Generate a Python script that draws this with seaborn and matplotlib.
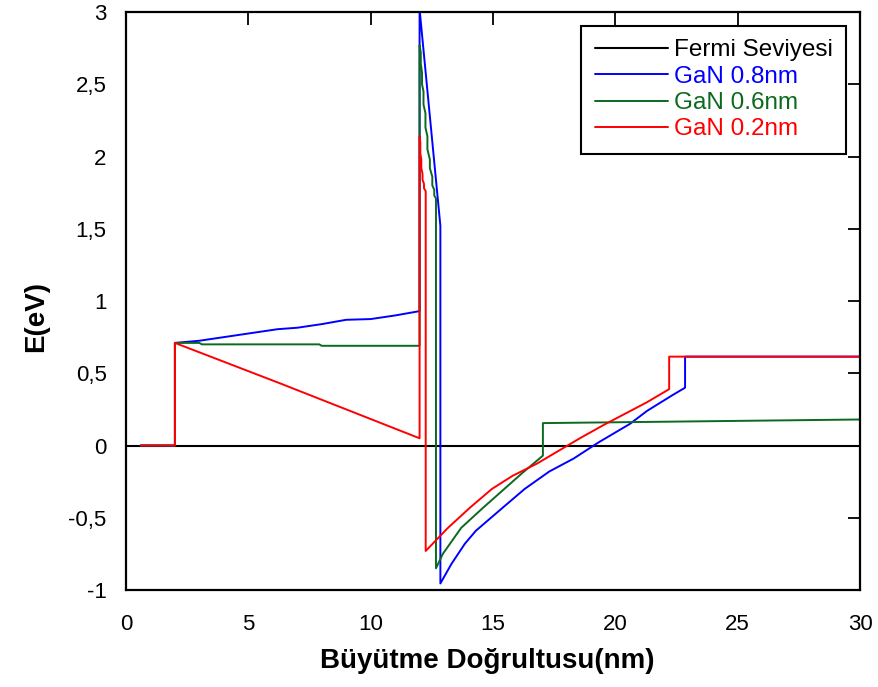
import matplotlib
matplotlib.use("Agg")
import matplotlib.pyplot as plt
import seaborn as sns
import pandas as pd
from matplotlib.ticker import FuncFormatter

# ---- data ----
fermi_x = [0.0, 30.0]
fermi_y = [0.0, 0.0]

gan08_x = [0.6, 2.0, 2.0, 3.0, 4.0, 5.0, 6.2, 7.0, 8.0, 9.0, 10.0, 11.0, 12.0,
           12.0, 12.85, 12.85, 13.3, 13.85, 14.3, 15.4, 16.3, 17.3, 18.3, 19.3,
           20.6, 21.3, 22.35, 22.85, 22.85, 30.0]
gan08_y = [0.0, 0.0, 0.71, 0.725, 0.75, 0.775, 0.805, 0.815, 0.84, 0.87, 0.875, 0.90, 0.93,
           3.02, 1.52, -0.955, -0.82, -0.68, -0.59, -0.43, -0.30, -0.18, -0.09, 0.02,
           0.15, 0.24, 0.35, 0.40, 0.615, 0.615]

gan06_x = [0.6, 2.0, 2.0, 3.0, 3.1, 7.9, 8.0, 12.0, 12.0, 12.05, 12.05, 12.1, 12.1,
           12.16, 12.16, 12.24, 12.24, 12.32, 12.32, 12.42, 12.42, 12.52, 12.52,
           12.6, 12.6, 12.67, 12.67,
           12.95, 13.7, 14.6, 15.4, 16.2, 17.04, 17.04, 30.0]
gan06_y = [0.0, 0.0, 0.71, 0.71, 0.70, 0.70, 0.69, 0.69, 2.77, 2.72, 2.64, 2.58, 2.50,
           2.45, 2.36, 2.30, 2.20, 2.14, 2.05, 1.98, 1.92, 1.86, 1.80,
           1.77, 1.73, 1.71, -0.85,
           -0.75, -0.57, -0.43, -0.31, -0.19, -0.07, 0.155, 0.18]

gan02_x = [0.6, 2.0, 2.0, 6.3, 12.0, 12.0, 12.03, 12.03, 12.07, 12.07, 12.12, 12.12,
           12.18, 12.18, 12.25, 12.25,
           13.16, 14.06, 14.96, 15.8, 16.8, 17.7, 18.55, 19.5, 20.4, 21.3, 22.2,
           22.2, 30.0]
gan02_y = [0.0, 0.0, 0.71, 0.43, 0.05, 2.14, 2.10, 2.02, 1.98, 1.92, 1.88, 1.84,
           1.81, 1.78, 1.76, -0.73,
           -0.57, -0.43, -0.30, -0.21, -0.125, -0.035, 0.05, 0.14, 0.22, 0.30, 0.39,
           0.615, 0.615]

labels = ["Fermi Seviyesi", "GaN 0.8nm", "GaN 0.6nm", "GaN 0.2nm"]
colors = ["#000000", "#0000FF", "#0B6A1E", "#FF0000"]

x_ticks = [0, 5, 10, 15, 20, 25, 30]
y_ticks = [-1, -0.5, 0, 0.5, 1, 1.5, 2, 2.5, 3]

# ---- style ----
sns.set_theme(style="white")
plt.rcParams['font.family'] = ['Liberation Sans', 'DejaVu Sans']

fig = plt.figure(figsize=(8.79, 6.87), dpi=100)
ax = fig.add_axes([0.1433, 0.1412, 0.8351, 0.8413])

series = [(fermi_x, fermi_y), (gan08_x, gan08_y), (gan06_x, gan06_y), (gan02_x, gan02_y)]
widths = [1.5, 1.4, 1.4, 1.4]
for (xs, ys), lab, col, lw in zip(series, labels, colors, widths):
    df = pd.DataFrame({"x": xs, "y": ys})
    sns.lineplot(data=df, x="x", y="y", sort=False, estimator=None, ax=ax,
                 color=col, linewidth=lw, label=lab)

ax.set_xlim(0, 30)
ax.set_ylim(-1, 3)
ax.set_xticks(x_ticks)
ax.set_yticks(y_ticks)

fmt = FuncFormatter(lambda v, p: (f"{v:g}").replace(".", ","))
ax.xaxis.set_major_formatter(fmt)
ax.yaxis.set_major_formatter(fmt)

ax.tick_params(axis="both", which="major", direction="in", length=9, width=1.3,
               colors="black", labelsize=16, top=True, right=True)
ax.tick_params(axis="x", pad=17)
ax.tick_params(axis="y", pad=14)
for sp in ax.spines.values():
    sp.set_color("black")
    sp.set_linewidth(1.6)

ax.set_xlabel("Büyütme Doğrultusu(nm)", fontsize=20, fontweight="bold", color="black")
ax.set_ylabel("E(eV)", fontsize=20, fontweight="bold", color="black")
ax.xaxis.label.set_verticalalignment("baseline")
ax.yaxis.label.set_verticalalignment("baseline")
ax.xaxis.set_label_coords(0.492, -0.135)
ax.yaxis.set_label_coords(-0.113, 0.474)

leg = ax.legend(loc="upper right", bbox_to_anchor=(0.981, 0.976), fontsize=17.5,
                frameon=True, fancybox=False, framealpha=1, edgecolor="black",
                handlelength=3.0, handletextpad=0.25, labelspacing=0.18,
                borderpad=0.55, borderaxespad=0)
leg.get_frame().set_linewidth(1.5)
for txt, col in zip(leg.get_texts(), colors):
    txt.set_color(col)

fig.savefig("out.png", dpi=100)
